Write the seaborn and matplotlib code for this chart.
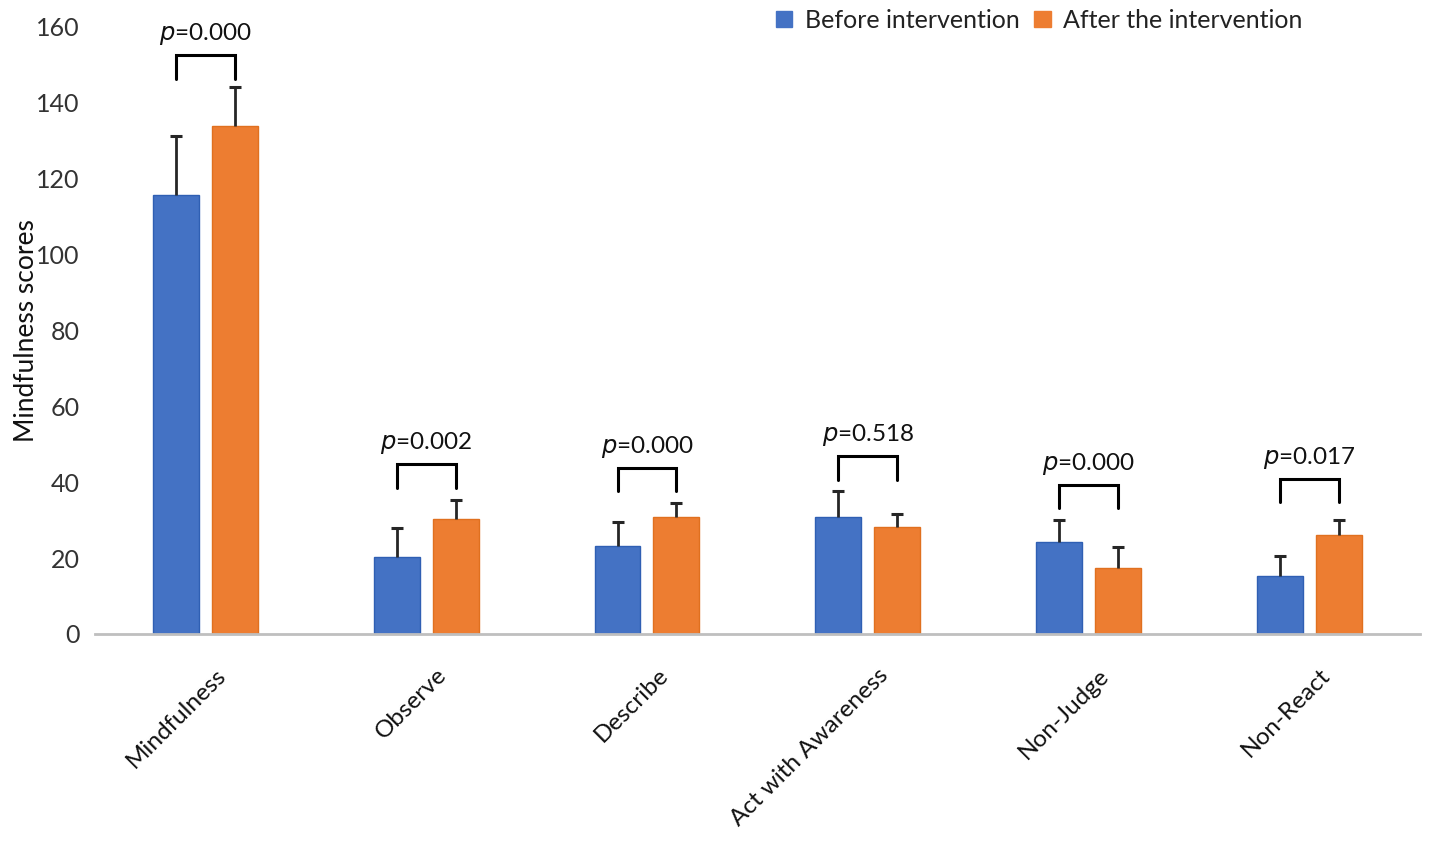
"""Mindfulness scores before and after the intervention, grouped bars with p-value brackets."""

import pandas as pd
import matplotlib.pyplot as plt
import matplotlib.transforms as mtransforms
import seaborn as sns

categories = ["Mindfulness", "Observe", "Describe", "Act with Awareness", "Non-Judge", "Non-React"]
groups = ["Before intervention", "After the intervention"]
before_mean = [115.7, 20.4, 23.2, 30.9, 24.3, 15.4]
before_sd = [15.6, 7.5, 6.3, 6.9, 5.7, 5.2]
after_mean = [133.8, 30.2, 30.9, 28.2, 17.5, 26.1]
after_sd = [10.4, 5.1, 3.5, 3.4, 5.5, 3.9]
p_labels = ["0.000", "0.002", "0.000", "0.518", "0.000", "0.017"]
bracket_top = [152.6, 44.8, 43.8, 46.9, 39.3, 40.9]

BLUE = "#4472C4"
ORANGE = "#ED7D31"

df = pd.DataFrame({
    "category": categories * 2,
    "group": [groups[0]] * len(categories) + [groups[1]] * len(categories),
    "score": before_mean + after_mean,
})

sns.set_theme(style="white")
plt.rcParams["font.family"] = ["Lato", "DejaVu Sans"]

fig = plt.figure(figsize=(14.29, 8.43), dpi=100)
ax = fig.add_axes([0.0665, 0.248, 0.927, 0.72])

sns.barplot(data=df, x="category", y="score", hue="group", order=categories,
            hue_order=groups, palette=[BLUE, ORANGE], saturation=1, width=0.534,
            gap=0.22, errorbar=None, ax=ax, legend=False, linewidth=1)
for bars, edge in zip(ax.containers, ["#2F5FB3", "#E0701F"]):
    for b in bars:
        b.set_edgecolor(edge)

# upper-only error bars from the bar patches
centers = {}
for bars, sds, name in zip(ax.containers, [before_sd, after_sd], groups):
    xs = [b.get_x() + b.get_width() / 2 for b in bars]
    ys = [b.get_height() for b in bars]
    tops = [y + s for y, s in zip(ys, sds)]
    centers[name] = xs
    ax.vlines(xs, ys, tops, color="#262626", lw=2, zorder=3)
    ax.plot(xs, tops, ls="none", marker="_", ms=9, mew=2.2, color="#262626", zorder=3)

# p-value brackets
for i, (top, p) in enumerate(zip(bracket_top, p_labels)):
    x0, x1 = centers[groups[0]][i], centers[groups[1]][i]
    ax.plot([x0, x0, x1, x1], [top - 6.2, top, top, top - 6.2], color="black",
            lw=2.2, solid_joinstyle="miter", zorder=4)
    ax.text((x0 + x1) / 2, top + 5.5, f"$\\it{{p}}$=" + p, ha="center", va="center",
            fontsize=17.5, color="#111111")

ax.set_ylim(0, 160)
ax.set_xlim(-0.5, 5.5)
ax.set_yticks(range(0, 161, 20))
ax.tick_params(axis="y", labelsize=18, labelcolor="#333333", length=0, pad=11)
ax.tick_params(axis="x", labelsize=17.5, labelcolor="#111111", length=0, pad=22)
shift = mtransforms.ScaledTranslation(0.1, 0, fig.dpi_scale_trans)
for lab in ax.get_xticklabels():
    lab.set_rotation(45)
    lab.set_ha("right")
    lab.set_rotation_mode("anchor")
    lab.set_transform(lab.get_transform() + shift)
ax.set_xlabel("")
ax.set_ylabel("Mindfulness scores", fontsize=19, color="#111111", labelpad=-2)
for side in ["top", "right", "left"]:
    ax.spines[side].set_visible(False)
ax.spines["bottom"].set_color("#BFBFBF")
ax.spines["bottom"].set_linewidth(2)

handles = [plt.Rectangle((0, 0), 1, 1, color=c) for c in [BLUE, ORANGE]]
fig.legend(handles, groups, loc="center left", bbox_to_anchor=(0.543, 0.976),
           ncol=2, frameon=False, fontsize=18, handlelength=0.65, handleheight=0.65,
           handletextpad=0.5, columnspacing=0.6, labelcolor="#222222",
           borderaxespad=0, borderpad=0)

fig.savefig("out.png", dpi=100)
